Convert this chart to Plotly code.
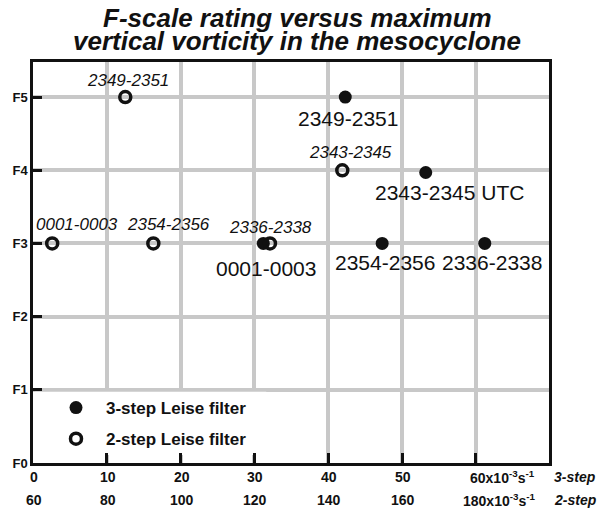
import plotly.graph_objects as go

# ---- data ----
f_ticks = [0, 1, 2, 3, 4, 5]
f_labels = ["F0", "F1", "F2", "F3", "F4", "F5"]

x3_ticks = [0, 10, 20, 30, 40, 50, 60]
x3_labels = ["0", "10", "20", "30", "40", "50", "60x10<sup>-3</sup>s<sup>-1</sup>"]
x2_labels = ["60", "80", "100", "120", "140", "160", "180x10<sup>-3</sup>s<sup>-1</sup>"]

title_lines = ["F-scale rating versus maximum", "vertical vorticity in the mesocyclone"]

# 3-step Leise filter (x in 10^-3 s^-1, 3-step scale)
step3_times = ["2349-2351", "2343-2345 UTC", "2354-2356", "2336-2338", "0001-0003"]
step3_vort = [42.3, 53.2, 47.3, 61.2, 31.2]
step3_f = [5, 3.97, 3, 3, 3]

# 2-step Leise filter (x in 10^-3 s^-1, 2-step scale: 60..180)
step2_times = ["2349-2351", "0001-0003", "2354-2356", "2336-2338", "2343-2345"]
step2_vort = [85.0, 65.2, 92.6, 124.2, 143.8]
step2_f = [5, 3, 3, 3, 4]

# 2-step axis runs 60..180 while 3-step runs 0..60 on the same scale
step2_on_axis = [(v - 60) / 2 for v in step2_vort]

FONT = "Liberation Sans, Arial, Helvetica, sans-serif"
PLOT_TOP, PLOT_BOTTOM, PLOT_LEFT, PLOT_W = 62, 463, 33, 516

fig = go.Figure()

fig.add_trace(go.Scatter(
    x=step3_vort, y=step3_f, mode="markers", name="3-step Leise filter",
    legendgroup="a",
    marker=dict(symbol="circle", size=13, color="#111111"),
))
fig.add_trace(go.Scatter(
    x=step2_on_axis, y=step2_f, mode="markers", name="2-step Leise filter",
    legendgroup="b",
    marker=dict(symbol="circle-open", size=11, color="#111111", line=dict(width=3.5)),
))

ann = []
# 3-step labels (upright)
s3_shift = {
    "2349-2351": (3, -21, "center"),
    "2343-2345 UTC": (-53, -20, "left"),
    "2354-2356": (3, -19, "center"),
    "2336-2338": (7, -19, "center"),
    "0001-0003": (3, -25, "center"),
}
for t, x, y in zip(step3_times, step3_vort, step3_f):
    dx, dy, anc = s3_shift[t]
    ann.append(dict(x=x, y=y, xref="x", yref="y", text=t, showarrow=False,
                    xanchor=anc, yanchor="middle", xshift=dx, yshift=dy,
                    font=dict(family=FONT, size=21, color="#111111")))
# 2-step labels (italic)
s2_shift = {
    "2349-2351": (3, 17),
    "0001-0003": (25, 19),
    "2354-2356": (15, 19),
    "2336-2338": (1, 16),
    "2343-2345": (8, 18),
}
for t, x, y in zip(step2_times, step2_on_axis, step2_f):
    dx, dy = s2_shift[t]
    ann.append(dict(x=x, y=y, xref="x", yref="y", text=t, showarrow=False,
                    xanchor="center", yanchor="middle", xshift=dx, yshift=dy,
                    font=dict(family=FONT, size=17, color="#111111", style="italic")))

# x tick labels, two rows
for i, (v, l1, l2) in enumerate(zip(x3_ticks, x3_labels, x2_labels)):
    last = i == len(x3_ticks) - 1
    for lab, ys in ((l1, -14), (l2, -37)):
        ann.append(dict(x=v, y=0, xref="x", yref="paper", text=lab, showarrow=False,
                        xanchor="right" if last else "center", yanchor="middle",
                        xshift=61 if last else 1, yshift=ys,
                        font=dict(family=FONT, size=14, color="#111111", weight="bold")))
for lab, ys in (("3-step", -14), ("2-step", -37)):
    ann.append(dict(x=1, y=0, xref="paper", yref="paper", text=lab, showarrow=False,
                    xanchor="left", yanchor="middle", xshift=3, yshift=ys,
                    font=dict(family=FONT, size=14, color="#111111", weight="bold",
                              style="italic")))

# title, two separate lines (pixel rows 18 and 41 converted to paper coords)
for line, yc in zip(title_lines, (18, 41)):
    ann.append(dict(x=(297 - PLOT_LEFT) / PLOT_W,
                    y=(PLOT_BOTTOM - yc) / (PLOT_BOTTOM - PLOT_TOP),
                    xref="paper", yref="paper", text=line,
                    showarrow=False, xanchor="center", yanchor="middle",
                    font=dict(family=FONT, size=26, color="#111111", weight="bold",
                              style="italic")))

fig.update_layout(
    width=598, height=509,
    margin=dict(l=PLOT_LEFT, r=598 - PLOT_LEFT - PLOT_W, t=PLOT_TOP, b=509 - PLOT_BOTTOM),
    paper_bgcolor="white", plot_bgcolor="white",
    showlegend=True,
    legend=dict(x=(46 - PLOT_LEFT) / PLOT_W, y=(PLOT_BOTTOM - 390) / (PLOT_BOTTOM - PLOT_TOP),
                xanchor="left", yanchor="top",
                bgcolor="rgba(0,0,0,0)", itemwidth=50, tracegroupgap=6,
                font=dict(family=FONT, size=17, color="#111111", weight="bold")),
    annotations=ann,
    shapes=[dict(type="rect", xref="x", yref="y", x0=0.3, x1=31.6, y0=0.11, y1=0.975,
                 fillcolor="white", line=dict(width=0), layer="between")],
)
fig.update_xaxes(range=[0, 69.9], tickvals=x3_ticks, showticklabels=False,
                 showgrid=True, gridcolor="#c8c8c8", gridwidth=4,
                 showline=True, linecolor="#111111", linewidth=2.5, mirror=True,
                 ticks="inside", ticklen=10, tickwidth=2.5, tickcolor="#111111",
                 zeroline=False)
fig.update_yaxes(range=[0, 5.48], tickvals=f_ticks, ticktext=f_labels,
                 showgrid=True, gridcolor="#c8c8c8", gridwidth=4,
                 showline=True, linecolor="#111111", linewidth=2.5, mirror=True,
                 ticks="inside", ticklen=9, tickwidth=2.5, tickcolor="#111111",
                 tickfont=dict(family=FONT, size=13, color="#111111", weight="bold"),
                 zeroline=False, automargin=False)

fig.write_html("out.html", config={"displayModeBar": False},
               post_script="document.body.style.margin='0';")
